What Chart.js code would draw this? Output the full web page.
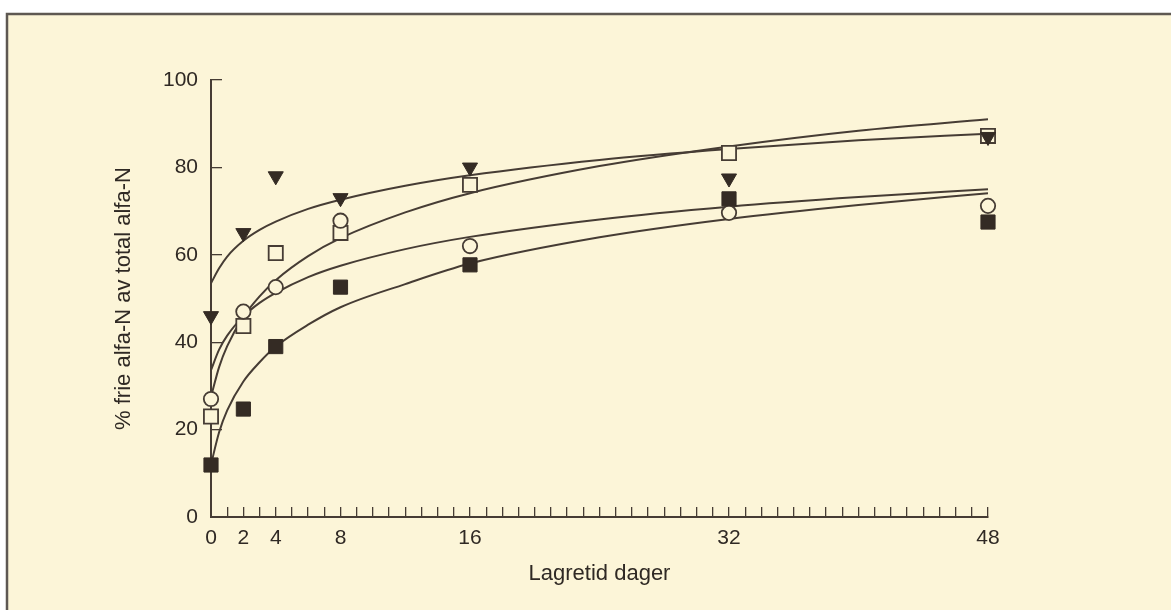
<!DOCTYPE html>
<html>
<head>
<meta charset="utf-8">
<script src="https://cdn.jsdelivr.net/npm/chart.js@4/dist/chart.umd.min.js"></script>
<style>
  html, body { margin: 0; padding: 0; background: #ffffff; }
  #wrap { width: 1171px; height: 610px; position: relative; }
</style>
</head>
<body>
<div id="wrap"><canvas id="c" width="1171" height="610"></canvas></div>
<script>
// ---- data ----
const days = [0, 2, 4, 8, 16, 32, 48];
const triangleDown = [46, 65, 78, 73, 80, 77.5, 87];
const openSquare   = [23, 43.7, 60.4, 65, 76, 83.3, 87.2];
const openCircle   = [27, 47, 52.6, 67.8, 62, 69.6, 71.2];
const filledSquare = [11.9, 24.7, 39, 52.6, 57.7, 72.8, 67.5];

// fitted curves, values
const curveDays     = [0, 0.5, 1, 2, 3, 4, 6, 8, 12, 16, 24, 32, 40, 48];
const curveTriangle = [53.5, 56.9, 59.6, 63.2, 65.7, 67.6, 70.5, 72.6, 75.8, 78.2, 81.7, 84.2, 86.2, 87.7];
const curveOpenSq   = [27.5, 34.3, 39.1, 45.8, 50.5, 54.2, 59.7, 63.8, 69.7, 74.1, 80.3, 84.8, 88.4, 91.0];
const curveCircle   = [33.6, 38.3, 41.5, 45.9, 49.0, 51.3, 54.9, 57.5, 61.3, 64.1, 68.1, 71.0, 73.2, 75.0];
const curveFilledSq = [12.0, 19.4, 24.4, 31.0, 35.4, 39.0, 44.0, 48.0, 53.3, 58.0, 64.0, 68.2, 71.4, 74.1];

const xTickLabels = [0, 2, 4, 8, 16, 32, 48];
const yTickValues = [0, 20, 40, 60, 80, 100];
const xTitle = 'Lagretid dager';
const yTitle = '% frie alfa-N av total alfa-N';

// ---- styling ----
const INK = '#2f2924';
const LINE = '#463c34';
const CREAM = '#fcf5d8';
const FONT = "'Liberation Sans', Arial, Helvetica, sans-serif";

function pts(xs, ys) { return xs.map((x, i) => ({ x: x, y: ys[i] })); }

const bgPlugin = {
  id: 'paper',
  beforeDraw(chart) {
    const ctx = chart.ctx;
    ctx.save();
    ctx.fillStyle = '#ffffff';
    ctx.fillRect(0, 0, chart.width, chart.height);
    ctx.fillStyle = CREAM;
    ctx.fillRect(8, 15, chart.width - 8, chart.height - 15);
    ctx.strokeStyle = '#5e5852';
    ctx.lineWidth = 2.5;
    ctx.beginPath();
    ctx.moveTo(7, chart.height);
    ctx.lineTo(7, 14);
    ctx.lineTo(chart.width, 14);
    ctx.stroke();
    ctx.restore();
  }
};

function curveDs(ys) {
  return {
    type: 'line',
    data: pts(curveDays, ys),
    borderColor: LINE,
    borderWidth: 2,
    pointRadius: 0,
    fill: false,
    clip: false,
    cubicInterpolationMode: 'monotone',
    order: 10
  };
}

function markerDs(ys, style, radius, filled, rotation, order) {
  return {
    type: 'scatter',
    data: pts(days, ys),
    showLine: false,
    clip: false,
    pointStyle: style,
    pointRadius: radius,
    pointRotation: rotation,
    pointBackgroundColor: filled ? '#342b24' : CREAM,
    pointBorderColor: filled ? '#342b24' : LINE,
    pointBorderWidth: filled ? 1 : 1.8,
    order: order
  };
}

new Chart(document.getElementById('c'), {
  data: {
    datasets: [
      markerDs(triangleDown, 'triangle', 8.7, true, 180, 1),
      markerDs(filledSquare, 'rect', 10, true, 0, 2),
      markerDs(openCircle, 'circle', 7.2, false, 0, 3),
      markerDs(openSquare, 'rect', 10, false, 0, 4),
      curveDs(curveTriangle),
      curveDs(curveOpenSq),
      curveDs(curveCircle),
      curveDs(curveFilledSq)
    ]
  },
  options: {
    responsive: false,
    animation: false,
    events: [],
    layout: { padding: { top: 80, right: 183, left: 0, bottom: 0 } },
    plugins: { legend: { display: false }, tooltip: { enabled: false } },
    scales: {
      x: {
        type: 'linear',
        min: 0,
        max: 48,
        afterFit(scale) { scale.height = 93; },
        afterBuildTicks(scale) {
          const t = [];
          for (let d = 0; d <= 48; d++) t.push({ value: d });
          scale.ticks = t;
        },
        ticks: {
          autoSkip: false,
          maxRotation: 0,
          padding: 19,
          color: INK,
          font: { family: FONT, size: 21 },
          callback: (v) => xTickLabels.includes(v) ? String(v) : ''
        },
        grid: {
          drawOnChartArea: false,
          drawTicks: true,
          tickLength: -10,
          color: LINE,
          lineWidth: 1.3
        },
        border: { display: true, color: LINE, width: 2 },
        title: {
          display: true,
          text: xTitle,
          color: INK,
          font: { family: FONT, size: 22 },
          padding: { top: 0, bottom: 23 }
        }
      },
      y: {
        type: 'linear',
        min: 0,
        max: 100,
        afterFit(scale) { scale.width = 211; },
        afterBuildTicks(scale) {
          scale.ticks = yTickValues.map(v => ({ value: v }));
        },
        ticks: {
          padding: 24,
          color: INK,
          font: { family: FONT, size: 21 },
          callback: (v) => String(v)
        },
        grid: {
          drawOnChartArea: false,
          drawTicks: true,
          tickLength: -11,
          color: LINE,
          lineWidth: 1.3
        },
        border: { display: true, color: LINE, width: 2 },
        title: {
          display: true,
          text: yTitle,
          color: INK,
          font: { family: FONT, size: 22 },
          padding: { top: 111, bottom: 0 }
        }
      }
    }
  },
  plugins: [bgPlugin]
});
</script>
</body>
</html>
